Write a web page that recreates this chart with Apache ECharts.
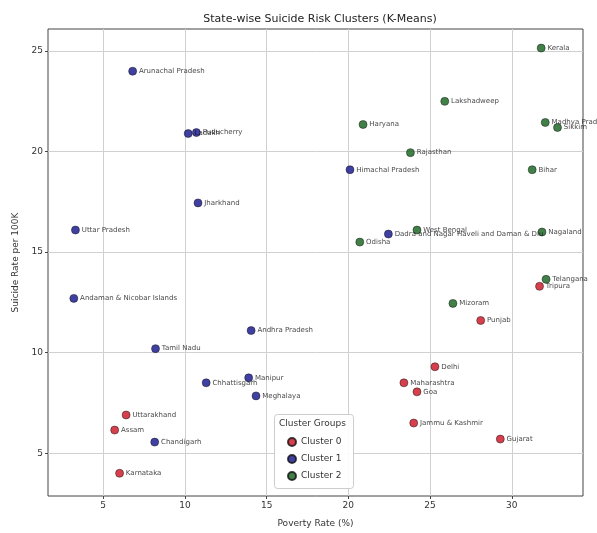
<!DOCTYPE html>
<html>
<head>
<meta charset="utf-8">
<script src="https://cdn.jsdelivr.net/npm/echarts@6/dist/echarts.min.js"></script>
<style>html,body{margin:0;padding:0;background:#fff}#c{width:597px;height:533px}</style>
</head>
<body>
<div id="c"></div>
<script>
// Cluster 0
const c0Names = ["Tripura","Punjab","Delhi","Maharashtra","Goa","Jammu & Kashmir","Gujarat","Uttarakhand","Assam","Karnataka"];
const c0X = [31.7, 28.1, 25.3, 23.4, 24.2, 24.0, 29.3, 6.4, 5.7, 6.0];
const c0Y = [13.3, 11.6, 9.3, 8.5, 8.05, 6.5, 5.7, 6.9, 6.15, 4.0];
// Cluster 1
const c1Names = ["Arunachal Pradesh","Ladakh","Puducherry","Jharkhand","Uttar Pradesh","Andaman & Nicobar Islands","Andhra Pradesh","Tamil Nadu","Chhattisgarh","Manipur","Meghalaya","Chandigarh","Himachal Pradesh","Dadra and Nagar Haveli and Daman & Diu"];
const c1X = [6.8, 10.2, 10.7, 10.8, 3.3, 3.2, 14.05, 8.2, 11.3, 13.9, 14.35, 8.15, 20.1, 22.45];
const c1Y = [24.0, 20.9, 20.95, 17.45, 16.1, 12.7, 11.1, 10.2, 8.5, 8.75, 7.85, 5.55, 19.1, 15.9];
// Cluster 2
const c2Names = ["Kerala","Lakshadweep","Haryana","Madhya Pradesh","Sikkim","Rajasthan","Bihar","West Bengal","Odisha","Nagaland","Telangana","Mizoram"];
const c2X = [31.8, 25.9, 20.9, 32.05, 32.8, 23.8, 31.25, 24.2, 20.7, 31.85, 32.1, 26.4];
const c2Y = [25.15, 22.5, 21.35, 21.45, 21.2, 19.95, 19.1, 16.1, 15.5, 16.0, 13.65, 12.45];

const xTicks = [5, 10, 15, 20, 25, 30];
const yTicks = [5, 10, 15, 20, 25];

const clusterNames = ["Cluster 0", "Cluster 1", "Cluster 2"];
const clusterColors = ["#cc1020", "#10108c", "#11621a"];

function mk(names, xs, ys) {
  return names.map((n, i) => ({ name: n, value: [xs[i], ys[i]] }));
}
const datasets = [mk(c0Names, c0X, c0Y), mk(c1Names, c1X, c1Y), mk(c2Names, c2X, c2Y)];

const chart = echarts.init(document.getElementById('c'));
const font = 'DejaVu Sans';
chart.setOption({
  animation: false,
  backgroundColor: '#fff',
  textStyle: { fontFamily: font },
  title: {
    text: 'State-wise Suicide Risk Clusters (K-Means)',
    left: 315, top: 9, textAlign: 'center',
    textStyle: { fontSize: 11, fontWeight: 'normal', color: '#222', fontFamily: font }
  },
  grid: { left: 48, right: 14, top: 29, bottom: 36, show: true, borderColor: '#444', borderWidth: 1, backgroundColor: 'transparent' },
  xAxis: {
    type: 'value', min: 1.62, max: 34.36,
    name: 'Poverty Rate (%)', nameLocation: 'middle', nameGap: 23,
    nameTextStyle: { fontSize: 9, color: '#333' },
    axisLine: { show: false },
    axisTick: { show: true, length: 3, lineStyle: { color: '#444' }, customValues: xTicks },
    axisLabel: { fontSize: 9, color: '#333', customValues: xTicks, margin: 5 },
    splitLine: { show: true, lineStyle: { color: '#d0d0d0', width: 1 }, customValues: xTicks }
  },
  yAxis: {
    type: 'value', min: 2.87, max: 26.1,
    name: 'Suicide Rate per 100K', nameLocation: 'middle', nameGap: 28,
    nameTextStyle: { fontSize: 9, color: '#333' },
    axisLine: { show: false },
    axisTick: { show: true, length: 3, lineStyle: { color: '#444' }, customValues: yTicks },
    axisLabel: { fontSize: 9, color: '#333', customValues: yTicks, margin: 5 },
    splitLine: { show: true, lineStyle: { color: '#d0d0d0', width: 1 }, customValues: yTicks }
  },
  legend: {
    orient: 'vertical', left: 282, top: 432, z: 20,
    itemWidth: 8, itemHeight: 8, itemGap: 7,
    icon: 'circle',
    textStyle: { fontSize: 9, color: '#333' },
    data: clusterNames
  },
  graphic: [
    { type: 'rect', left: 274, top: 414, shape: { width: 79, height: 74, r: 3 },
      style: { fill: 'rgba(255,255,255,0.9)', stroke: '#ccc', lineWidth: 1 }, z: 3 },
    { type: 'text', left: 279, top: 419, style: { text: 'Cluster Groups', fontSize: 9, fill: '#333', fontFamily: font }, z: 21 }
  ],
  series: clusterNames.map((n, k) => ({
    name: n, type: 'scatter', symbolSize: 8, z: 2,
    itemStyle: { color: clusterColors[k], borderColor: '#111', borderWidth: 0.6 },
    label: { show: true, position: 'right', distance: 2, formatter: '{b}', fontSize: 7, color: '#111' },
    labelLayout: { hideOverlap: false },
    data: datasets[k]
  }))
});
</script>
</body>
</html>
